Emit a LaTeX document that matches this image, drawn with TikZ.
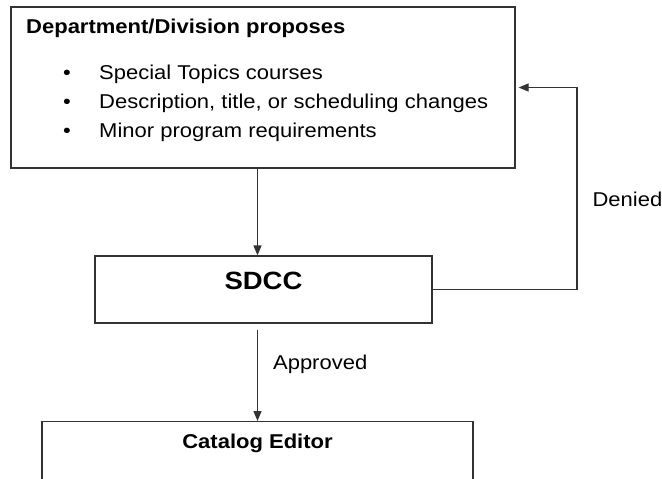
\documentclass[tikz,border=0pt]{standalone}
\usepackage{fontspec}
\setmainfont{Liberation Sans}[FakeStretch=1.1]
\usetikzlibrary{arrows.meta}

\begin{document}
\begin{tikzpicture}[x=1pt, y=-1pt,
    box/.style = {rectangle, draw=black!80, line width=1.2pt},
    flow/.style = {draw=black!80, line width=1.2pt, -{Triangle[length=10pt, width=8pt]}},
    plaintext/.style = {anchor=base west, inner sep=0pt},
    edgelabel/.style = {anchor=base west, inner sep=0pt, xshift=15pt},
    boldtext/.style = {font=\fontsize{20pt}{29pt}\selectfont\bfseries},
    font=\fontsize{20pt}{29pt}\selectfont]
  \useasboundingbox (0, 0) rectangle (662, 479);
  \clip (0, 0) rectangle (662, 479);

  % Boxes.
  \node at (263, 87.5) [box, minimum width=504pt, minimum height=161pt, name=Proposal] {};
  \node at (26, 33) [plaintext, boldtext, name=ProposalTitle] {Department/Division proposes};
  \node at (63, 79) [plaintext, name=TopicsItem] {\makebox[36pt][l]{\textbullet}Special Topics courses};
  \node at (63, 108) [plaintext, name=ChangesItem] {\makebox[36pt][l]{\textbullet}Description, title, or scheduling changes};
  \node at (63, 137) [plaintext, name=MinorItem] {\makebox[36pt][l]{\textbullet}Minor program requirements};
  \node at (263.5, 289.5) [box, minimum width=337pt, minimum height=67pt, text height=18pt, text depth=18pt,
                           font=\fontsize{25pt}{30pt}\selectfont\bfseries, name=SDCC] {SDCC};
  \node at (257.5, 421) [box, boldtext, anchor=north, minimum width=431pt, inner ysep=12pt,
                         text height=15pt, text depth=80pt, name=CatalogEditor] {Catalog Editor};

  % Review outcomes.
  \coordinate (DeniedCorner) at (577, 87.5);
  \draw [flow] (Proposal.south -| CatalogEditor.north)
               to (SDCC.north -| CatalogEditor.north);
  \draw [flow, shorten <=6pt] (SDCC.south -| CatalogEditor.north)
               to node [edgelabel, pos=0.47] {Approved}
               (CatalogEditor.north);
  \draw [flow, shorten >=3pt] (SDCC.east)
               -- (SDCC.east -| DeniedCorner)
               to node [edgelabel, pos=0.41] {Denied}
               (DeniedCorner)
               -- (Proposal.east);
\end{tikzpicture}
\end{document}
